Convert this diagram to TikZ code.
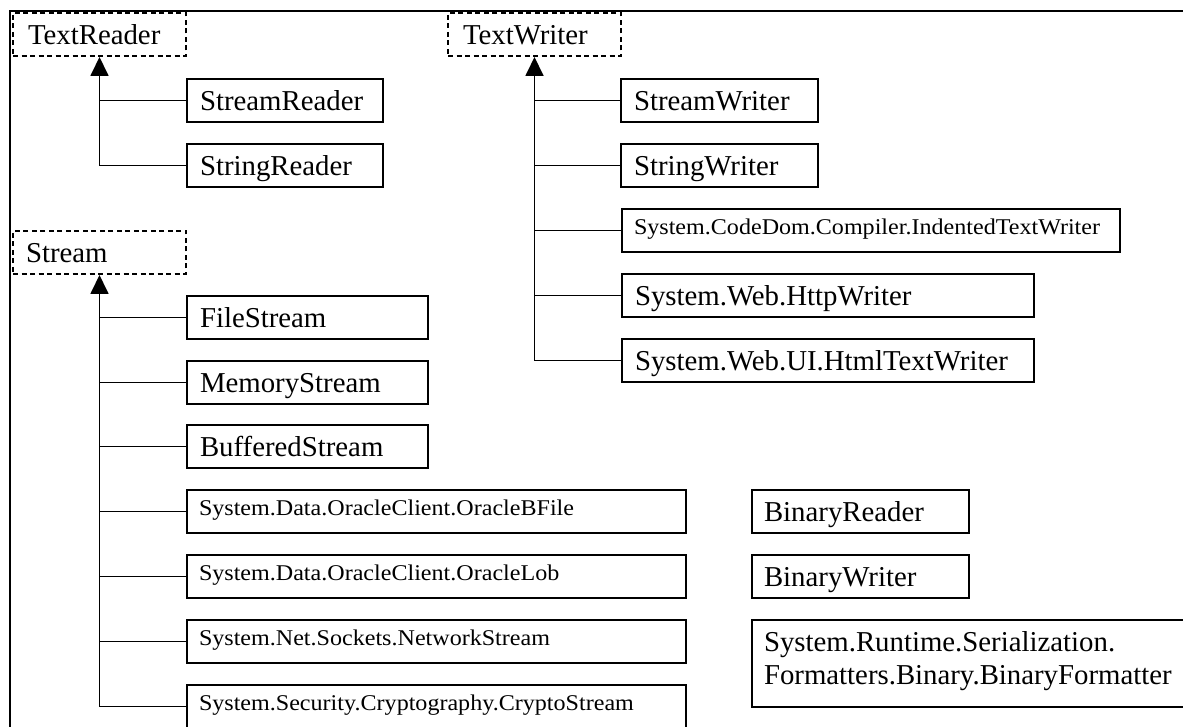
\documentclass[tikz,border=0pt]{standalone}
\usepackage{fontspec}
\setmainfont{Liberation Serif}
\newfontfamily\smallserif[FakeStretch=1.07]{Liberation Serif}
\usetikzlibrary{arrows.meta}
\begin{document}
\begin{tikzpicture}[x=1pt,y=-1pt,
  cls/.style={draw=black, line width=2pt, rectangle, anchor=north west,
    inner xsep=13pt, inner ysep=0pt, align=left,
    font=\fontsize{28.8}{33}\selectfont, text height=20pt, text depth=0pt,
    minimum height=43pt},
  abstract/.style={cls, dash pattern=on 5pt off 3.5pt, inner xsep=15pt},
  smalltext/.style={font=\smallserif\fontsize{22.5}{26}\selectfont,
    text height=15pt, text depth=7pt, inner xsep=12pt},
  conn/.style={line width=1.8pt},
  inh/.style={conn, -{Triangle[width=18pt,length=19pt]}},
]
\useasboundingbox (0,0) rectangle (1183,727);
\clip (0,0) rectangle (1183,727);
\fill[white] (0,0) rectangle (1183,727);
\draw[line width=1.8pt] (10,11) rectangle (1220,760);

% TextReader family
\node[abstract, text width=143pt] (TextReader) at (12,12) {TextReader};
\node[cls, text width=170pt] (StreamReader) at (186,78) {StreamReader};
\node[cls, text width=170pt] (StringReader) at (186,143) {StringReader};

% TextWriter family
\node[abstract, text width=143pt] (TextWriter) at (447,12) {TextWriter};
\node[cls, text width=171pt] (StreamWriter) at (620,78) {StreamWriter};
\node[cls, text width=171pt] (StringWriter) at (620,143) {StringWriter};
\node[cls, smalltext, text width=474pt] (Indented) at (621,208) {System.CodeDom.Compiler.IndentedTextWriter};
\node[cls, text width=386pt] (HttpWriter) at (621,273) {System.Web.HttpWriter};
\node[cls, text width=386pt] (HtmlTextWriter) at (621,338) {System.Web.UI.HtmlTextWriter};

% Stream family
\node[abstract, inner xsep=13pt, text width=147pt] (Stream) at (12,230) {Stream};
\node[cls, text width=215pt] (FileStream) at (186,295) {FileStream};
\node[cls, text width=215pt] (MemoryStream) at (186,360) {MemoryStream};
\node[cls, text width=215pt] (BufferedStream) at (186,424) {BufferedStream};
\node[cls, smalltext, text width=475pt] (OracleBFile) at (186,489) {System.Data.OracleClient.OracleBFile};
\node[cls, smalltext, text width=475pt] (OracleLob) at (186,554) {System.Data.OracleClient.OracleLob};
\node[cls, smalltext, text width=475pt] (NetworkStream) at (186,619) {System.Net.Sockets.NetworkStream};
\node[cls, smalltext, text width=475pt] (CryptoStream) at (186,684) {System.Security.Cryptography.CryptoStream};

% Binary classes
\node[cls, inner xsep=12pt, text width=193pt] (BinaryReader) at (751,489) {BinaryReader};
\node[cls, inner xsep=12pt, text width=193pt] (BinaryWriter) at (751,554) {BinaryWriter};
\node[cls, inner xsep=12pt, text width=436pt, minimum height=87pt,
  text height=20pt, text depth=45pt] (BinaryFormatter) at (751,619)
  {System.Runtime.Serialization.\\Formatters.Binary.BinaryFormatter};

% connectors: TextReader
\draw[inh] (StringReader.west) -| (TextReader.south);
\draw[conn] (StreamReader.west) -- (StreamReader.west -| TextReader.south);

% connectors: TextWriter
\draw[inh] (HtmlTextWriter.west) -| (TextWriter.south);
\draw[conn] (StreamWriter.west) -- (StreamWriter.west -| TextWriter.south);
\draw[conn] (StringWriter.west) -- (StringWriter.west -| TextWriter.south);
\draw[conn] (Indented.west) -- (Indented.west -| TextWriter.south);
\draw[conn] (HttpWriter.west) -- (HttpWriter.west -| TextWriter.south);

% connectors: Stream
\draw[inh] (CryptoStream.west) -| (Stream.south);
\draw[conn] (FileStream.west) -- (FileStream.west -| Stream.south);
\draw[conn] (MemoryStream.west) -- (MemoryStream.west -| Stream.south);
\draw[conn] (BufferedStream.west) -- (BufferedStream.west -| Stream.south);
\draw[conn] (OracleBFile.west) -- (OracleBFile.west -| Stream.south);
\draw[conn] (OracleLob.west) -- (OracleLob.west -| Stream.south);
\draw[conn] (NetworkStream.west) -- (NetworkStream.west -| Stream.south);
\end{tikzpicture}
\end{document}
